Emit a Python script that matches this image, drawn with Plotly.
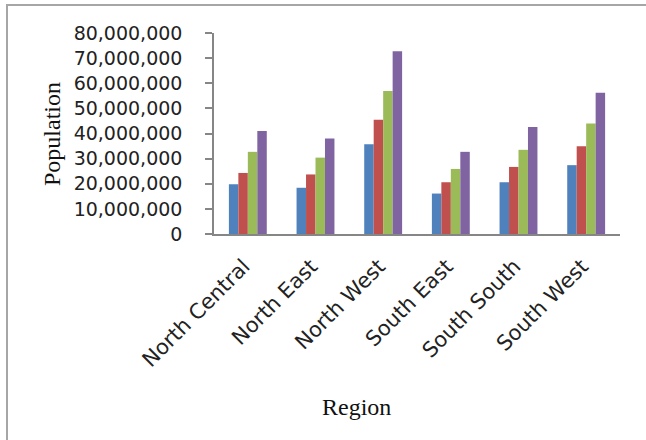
import plotly.graph_objects as go

regions = ["North Central", "North East", "North West", "South East", "South South", "South West"]
series_names = ["Series 1", "Series 2", "Series 3", "Series 4"]
series1 = [19.8e6, 18.4e6, 35.7e6, 16.1e6, 20.6e6, 27.4e6]
series2 = [24.3e6, 23.7e6, 45.5e6, 20.6e6, 26.7e6, 34.9e6]
series3 = [32.7e6, 30.4e6, 56.9e6, 25.9e6, 33.5e6, 44.0e6]
series4 = [41.0e6, 38.0e6, 72.7e6, 32.7e6, 42.6e6, 56.2e6]
colors = ["#4F81BD", "#C0504D", "#9BBB59", "#8064A2"]

y_ticks = [0, 10e6, 20e6, 30e6, 40e6, 50e6, 60e6, 70e6, 80e6]
y_tick_labels = ["0", "10,000,000", "20,000,000", "30,000,000", "40,000,000",
                 "50,000,000", "60,000,000", "70,000,000", "80,000,000"]

fig = go.Figure()
for name, vals, c in zip(series_names, [series1, series2, series3, series4], colors):
    fig.add_trace(go.Bar(x=regions, y=vals, name=name, marker_color=c,
                         marker_line_width=0, showlegend=False))

W, H = 646, 440
L, R, T, B = 214, 26, 33, 206
pw, ph = W - L - R, H - T - B

def px(x):
    return (x - L) / pw

def py(y):
    return (H - B - y) / ph

fig.update_layout(
    width=W, height=H,
    margin=dict(l=L, r=R, t=T, b=B, pad=0),
    paper_bgcolor="white", plot_bgcolor="white",
    barmode="group", bargap=0.44, bargroupgap=0,
    xaxis=dict(showline=True, linecolor="#868686", linewidth=1.5, ticks="",
               tickangle=-45, tickfont=dict(family="DejaVu Sans", size=21, color="#222"),
               showgrid=False, ticklabelstandoff=10, ticklabelshift=-4),
    yaxis=dict(range=[0, 80e6], tickvals=y_ticks, ticktext=y_tick_labels,
               showline=True, linecolor="#868686", linewidth=1.5,
               ticks="outside", ticklen=7, tickcolor="#868686", tickwidth=1.5,
               tickfont=dict(family="DejaVu Sans", size=19, color="#222"),
               showgrid=False, zeroline=False, ticklabelstandoff=19),
    annotations=[
        dict(text="Population", textangle=-90, xref="paper", yref="paper",
             x=px(52), y=py(134), xanchor="center", yanchor="middle", showarrow=False,
             font=dict(family="Liberation Serif", size=24, color="#111")),
        dict(text="Region", xref="paper", yref="paper",
             x=px(356), y=py(407), xanchor="center", yanchor="middle", showarrow=False,
             font=dict(family="Liberation Serif", size=24, color="#111")),
    ],
    shapes=[
        dict(type="rect", xref="paper", yref="paper",
             x0=px(7), x1=px(700), y0=py(500), y1=py(5),
             line=dict(color="#A6A6A6", width=2), fillcolor="rgba(0,0,0,0)", layer="below"),
    ],
)

fig.write_html("out.html")
